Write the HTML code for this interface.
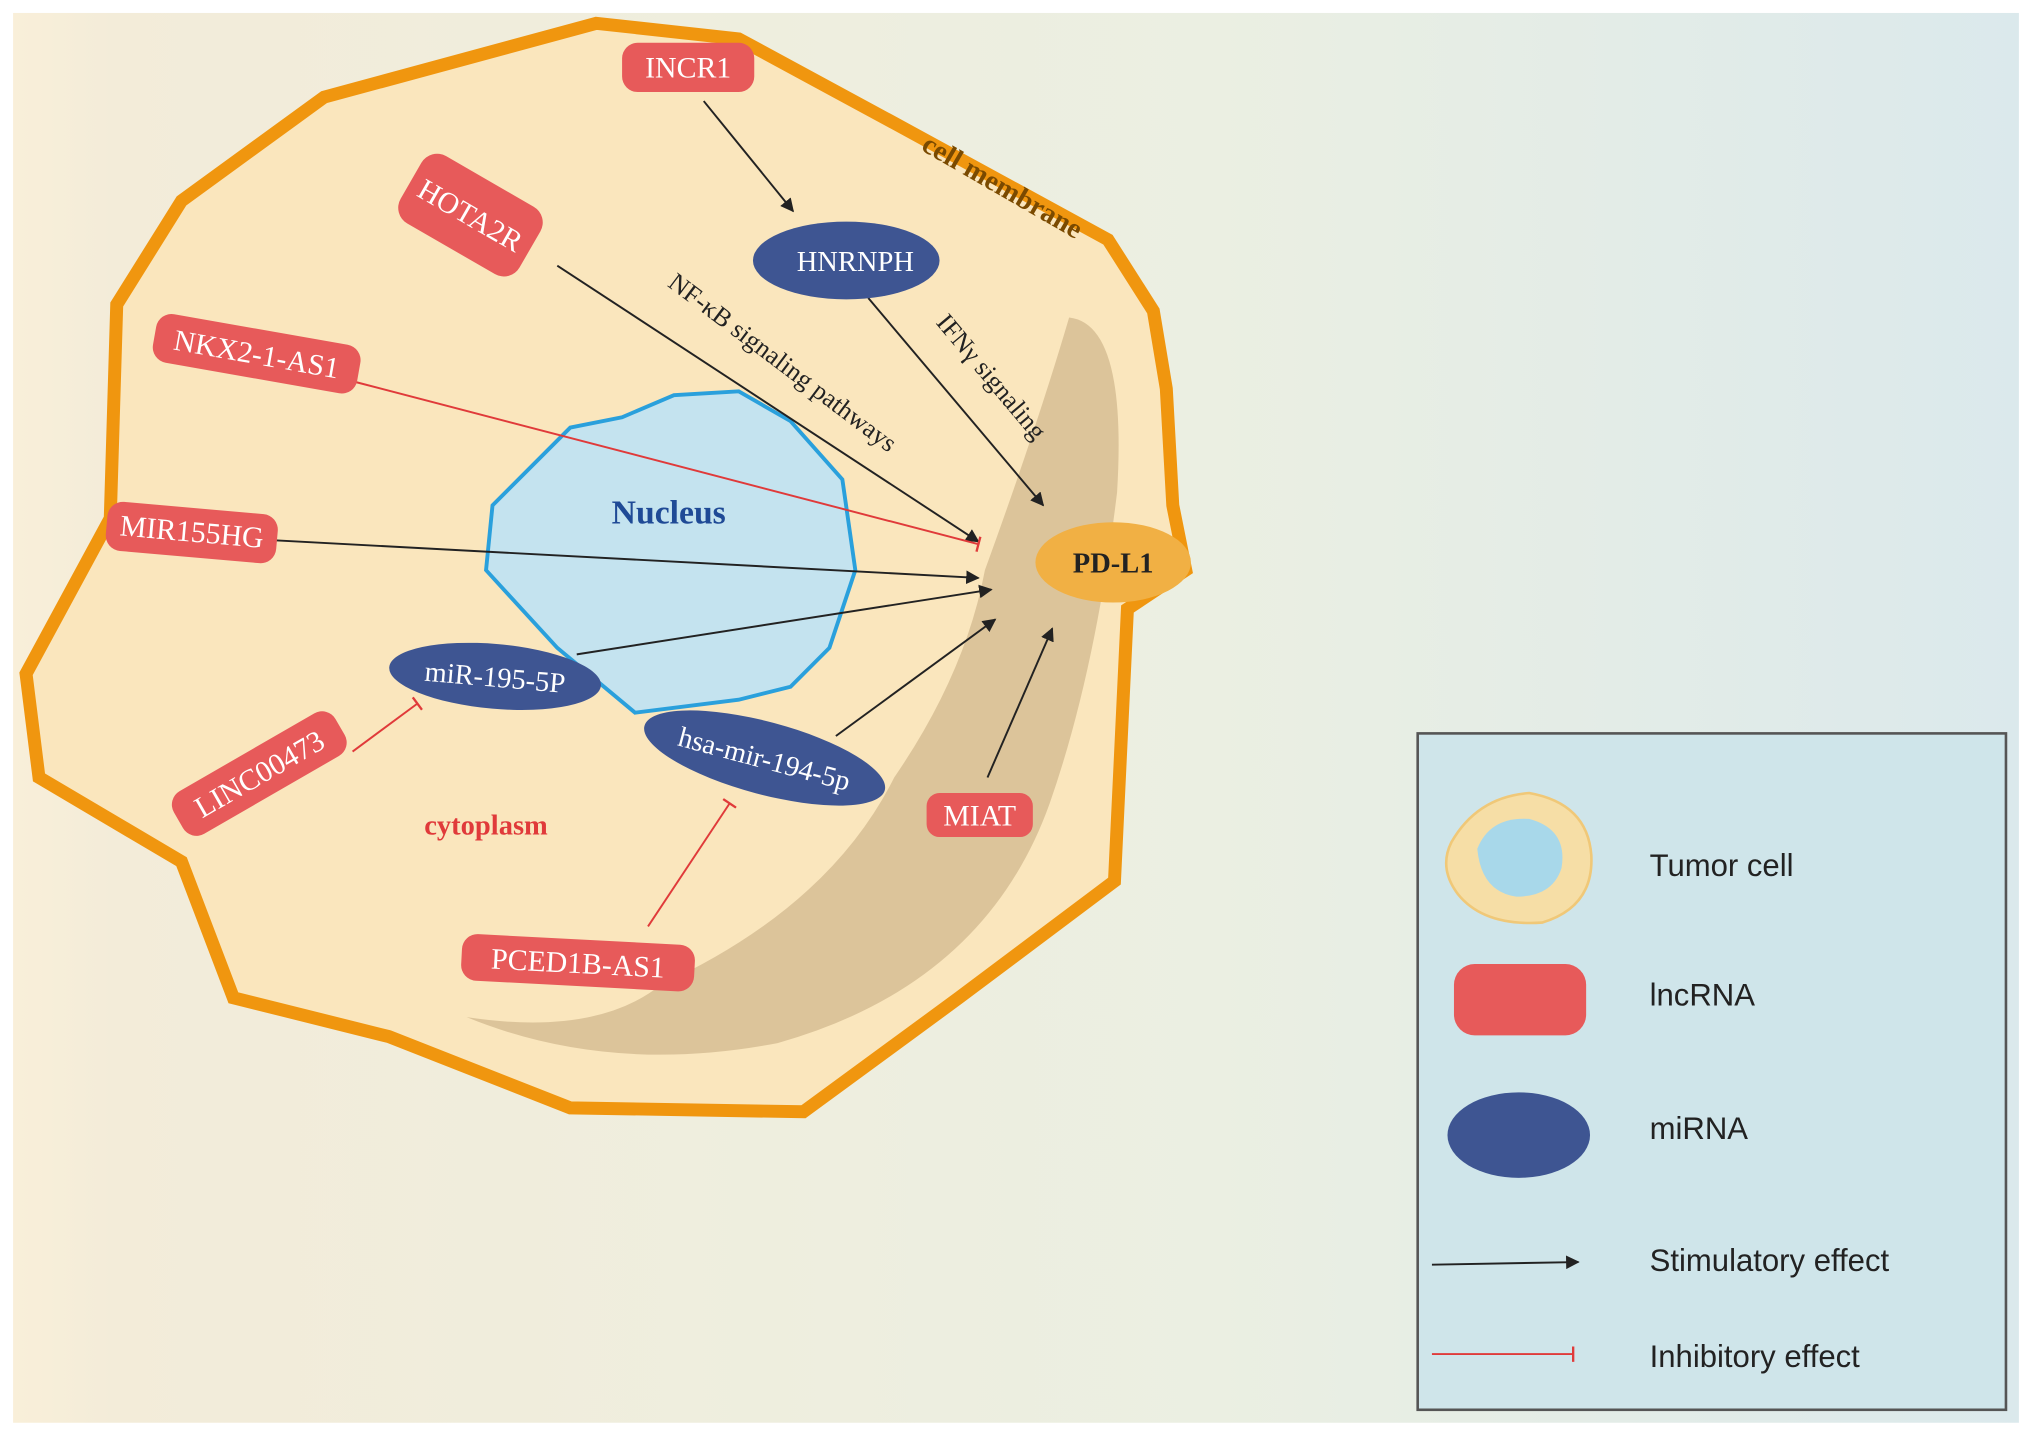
<!DOCTYPE html>
<html><head><meta charset="utf-8"><style>html,body{margin:0;padding:0;background:#fff}svg{display:block}</style></head>
<body>
<svg width="2032" height="1437" viewBox="0 0 1568 1109" xmlns="http://www.w3.org/2000/svg" font-family="Liberation Serif, serif">
<defs>
<linearGradient id="bg" x1="0" x2="1" y1="0" y2="0">
<stop offset="0" stop-color="#f9efd9"/><stop offset="0.05" stop-color="#f3ecd9"/><stop offset="0.6" stop-color="#ebefe2"/><stop offset="1" stop-color="#dbe9ec"/>
</linearGradient>
<marker id="ar" viewBox="0 0 10 10" refX="9" refY="5" markerWidth="7" markerHeight="7" orient="auto"><path d="M0,0 L10,5 L0,10 z" fill="#222"/></marker>
<marker id="tb" viewBox="0 0 4 10" refX="2" refY="5" markerWidth="4" markerHeight="8" orient="auto"><path d="M2,0 L2,10" stroke="#e03a3a" stroke-width="1.5"/></marker>
</defs>
<rect x="10" y="10" width="1548" height="1088" fill="url(#bg)"/>
<polygon points="140,155 250,75 460,18 570,30 690,95 855,185 890,240 900,300 905,390 915,440 870,470 860,680 740,770 620,858 440,855 300,800 180,770 140,665 30,600 20,520 85,400 90,235" fill="#fae6bd" stroke="#f0960f" stroke-width="10" stroke-linejoin="miter"/>
<path d="M825,245 Q870,250 862,380 Q845,520 810,620 Q760,760 600,805 Q470,830 360,785 Q460,800 510,760 Q640,700 690,600 Q745,520 760,440 Q800,330 825,245 Z" fill="#dcc49a"/>
<polygon points="380,390 440,330 480,322 520,305 570,302 610,325 650,370 660,440 640,500 610,530 570,540 490,550 430,500 375,440" fill="#c4e3ef" stroke="#2aa0dc" stroke-width="3"/>
<text x="516" y="404" font-size="26" font-weight="bold" fill="#1f4a96" text-anchor="middle">Nucleus</text>
<text x="375" y="644" font-size="22" font-weight="bold" fill="#e03a3a" text-anchor="middle">cytoplasm</text>
<text x="770" y="150" font-size="22" font-weight="bold" fill="#7a4a00" text-anchor="middle" transform="rotate(30 770 150)">cell membrane</text>
<g stroke="#222" stroke-width="1.5" fill="none" marker-end="url(#ar)">
<line x1="543" y1="78" x2="612" y2="163"/>
<line x1="430" y1="205" x2="755" y2="418"/>
<line x1="670" y1="230" x2="805" y2="390"/>
<line x1="212" y1="417" x2="755" y2="446"/>
<line x1="445" y1="505" x2="765" y2="455"/>
<line x1="645" y1="568" x2="768" y2="478"/>
<line x1="762" y1="600" x2="812" y2="485"/>
</g>
<g stroke="#e03a3a" stroke-width="1.5" fill="none" marker-end="url(#tb)">
<line x1="275" y1="295" x2="755" y2="420"/>
<line x1="272" y1="580" x2="322" y2="543"/>
<line x1="500" y1="715" x2="563" y2="620"/>
</g>
<text x="600" y="285" font-size="20" fill="#222" transform="rotate(37 600 285)" text-anchor="middle">NF-κB signaling pathways</text>
<text x="760" y="295" font-size="20" fill="#222" transform="rotate(50 760 295)" text-anchor="middle">IFNγ signaling</text>
<g font-size="23" fill="#fff" text-anchor="middle">
<rect x="480" y="33" width="102" height="38" rx="12" fill="#e75a5a"/><text x="531" y="60">INCR1</text>
<g transform="rotate(30 363 166)"><rect x="310" y="136" width="106" height="60" rx="14" fill="#e75a5a"/><text x="363" y="174">HOTA2R</text></g>
<g transform="rotate(10 198 273)"><rect x="118" y="254" width="160" height="38" rx="12" fill="#e75a5a"/><text x="198" y="281">NKX2-1-AS1</text></g>
<g transform="rotate(5 148 410)"><rect x="82" y="392" width="132" height="38" rx="12" fill="#e75a5a"/><text x="148" y="418">MIR155HG</text></g>
<g transform="rotate(-30 200 597)"><rect x="128" y="578" width="144" height="38" rx="12" fill="#e75a5a"/><text x="200" y="605">LINC00473</text></g>
<rect x="715" y="612" width="82" height="34" rx="10" fill="#e75a5a"/><text x="756" y="637">MIAT</text>
<g transform="rotate(3 446 743)"><rect x="356" y="725" width="180" height="36" rx="12" fill="#e75a5a"/><text x="446" y="751">PCED1B-AS1</text></g>
</g>
<g font-size="22" fill="#fff" text-anchor="middle">
<ellipse cx="653" cy="201" rx="72" ry="30" fill="#3e5592"/><text x="660" y="209">HNRNPH</text>
<g transform="rotate(5 382 522)"><ellipse cx="382" cy="522" rx="82" ry="25" fill="#3e5592"/><text x="382" y="530">miR-195-5P</text></g>
<g transform="rotate(15 590 585)"><ellipse cx="590" cy="585" rx="96" ry="28" fill="#3e5592"/><text x="590" y="593">hsa-mir-194-5p</text></g>
</g>
<ellipse cx="859" cy="434" rx="60" ry="31" fill="#f1b044"/>
<text x="859" y="442" font-size="22" font-weight="bold" fill="#222" text-anchor="middle">PD-L1</text>
<rect x="1094" y="566" width="454" height="522" fill="#cfe5ea" stroke="#555" stroke-width="2"/>
<path d="M1120,650 Q1140,615 1180,612 Q1225,620 1228,660 Q1230,700 1190,712 Q1145,715 1125,690 Q1110,670 1120,650 Z" fill="#f6dea6" stroke="#f0c878" stroke-width="2"/>
<path d="M1140,655 Q1150,630 1180,632 Q1210,640 1205,670 Q1198,692 1170,692 Q1143,688 1140,655 Z" fill="#a8d8ea"/>
<rect x="1122" y="744" width="102" height="55" rx="16" fill="#e75a5a"/>
<ellipse cx="1172" cy="876" rx="55" ry="33" fill="#3e5592"/>
<line x1="1105" y1="976" x2="1218" y2="974" stroke="#222" stroke-width="1.5" marker-end="url(#ar)"/>
<line x1="1105" y1="1045" x2="1214" y2="1045" stroke="#e03a3a" stroke-width="1.5" marker-end="url(#tb)"/>
<g font-family="Liberation Sans, sans-serif" font-size="24" fill="#222">
<text x="1273" y="676">Tumor cell</text>
<text x="1273" y="776">lncRNA</text>
<text x="1273" y="879">miRNA</text>
<text x="1273" y="981">Stimulatory effect</text>
<text x="1273" y="1055">Inhibitory effect</text>
</g>
</svg>
</body></html>
